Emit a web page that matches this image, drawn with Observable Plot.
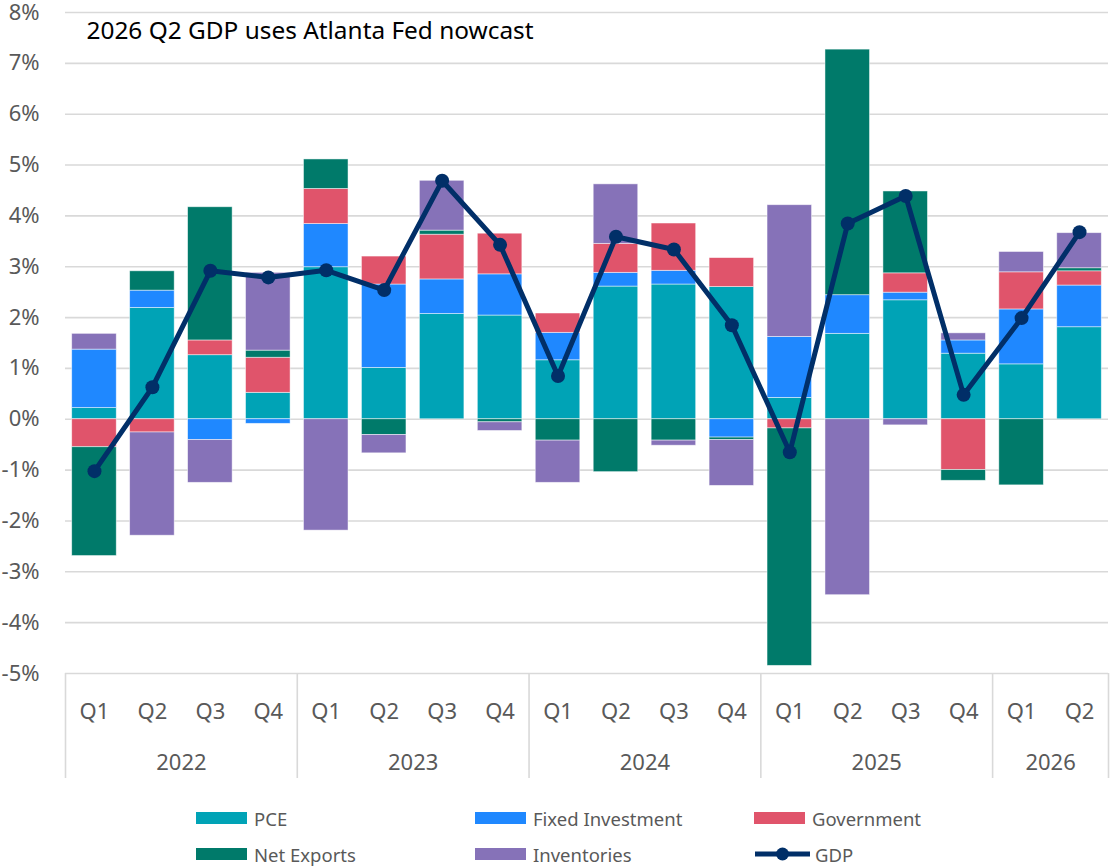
<!DOCTYPE html>
<html>
<head>
<meta charset="utf-8">
<script src="https://cdn.jsdelivr.net/npm/d3@7"></script>
<script src="https://cdn.jsdelivr.net/npm/@observablehq/plot@0.6"></script>
<style>
  body { margin: 0; background: #fff; font-family: "Noto Sans", "Open Sans", sans-serif; }
  #chart svg { display: block; }
  .legend { display: grid; grid-template-columns: 279px 279px 279px; margin-left: 196px; padding-top: 10px; }
  .item { display: flex; align-items: center; height: 36px; font-size: 18.5px; color: #595959; }
  .sw { width: 51px; height: 12px; margin-right: 7px; }
</style>
</head>
<body>
<div id="chart"></div>
<div class="legend" id="legend"></div>
<script>
const quarters = ["Q1","Q2","Q3","Q4","Q1","Q2","Q3","Q4","Q1","Q2","Q3","Q4","Q1","Q2","Q3","Q4","Q1","Q2"];
const years    = ["2022","2022","2022","2022","2023","2023","2023","2023","2024","2024","2024","2024","2025","2025","2025","2025","2026","2026"];
const yTicks = [-5,-4,-3,-2,-1,0,1,2,3,4,5,6,7,8];
const title = "2026 Q2 GDP uses Atlanta Fed nowcast";

const seriesNames = ["PCE","Fixed Investment","Government","Net Exports","Inventories"];
const seriesColors = ["#00a3b6","#1f88ff","#e0546b","#007a6a","#8672b8"];
const gdpColor = "#012f68";

const pce      = [0.22,2.19,1.26,0.52, 2.99,1.01,2.07,2.04, 1.16,2.61,2.65,2.60, 0.42,1.68,2.34,1.29, 1.08,1.81];
const fixedInv = [1.15,0.34,-0.41,-0.09, 0.85,1.64,0.68,0.81, 0.54,0.27,0.27,-0.36, 1.20,0.76,0.15,0.26, 1.08,0.82];
const govt     = [-0.55,-0.26,0.29,0.69, 0.69,0.55,0.88,0.80, 0.38,0.57,0.93,0.57, -0.18,0.00,0.38,-1.00, 0.73,0.28];
const netExp   = [-2.14,0.38,2.62,0.14, 0.58,-0.31,0.08,-0.06, -0.42,-1.04,-0.42,-0.05, -4.67,4.83,1.61,-0.21, -1.30,0.06];
const inventories = [0.31,-2.03,-0.84,1.53, -2.19,-0.36,0.98,-0.17, -0.83,1.17,-0.10,-0.90, 2.59,-3.46,-0.12,0.14, 0.40,0.69];
const gdp      = [-1.02,0.63,2.92,2.79, 2.93,2.54,4.69,3.43, 0.85,3.59,3.34,1.85, -0.65,3.85,4.39,0.48, 1.99,3.68];

const seriesValues = [pce, fixedInv, govt, netExp, inventories];

// long table for stacking
const bars = [];
seriesValues.forEach((vals, s) => vals.forEach((v, i) => bars.push({i, series: seriesNames[s], value: v})));
const gdpData = gdp.map((v, i) => ({i, value: v}));
const quarterData = quarters.map((q, i) => ({i, q}));
const yearList = Array.from(new Set(years));
const yearData = yearList.map(y => {
  const idx = years.map((yy, i) => yy === y ? i : -1).filter(i => i >= 0);
  return {year: y, start: d3.min(idx), end: d3.max(idx) + 1};
});
const boundaries = Array.from(new Set(yearData.flatMap(d => [d.start, d.end])));

const W = 1110, H = 790, mT = 12, mB = 117, mL = 65, mR = 2;
const frameH = H - mT - mB;

const plot = Plot.plot({
  width: W, height: H,
  marginTop: mT, marginBottom: mB, marginLeft: mL, marginRight: mR,
  style: {fontFamily: "'Noto Sans', 'Open Sans', sans-serif", fontSize: "22px", color: "#595959", background: "#fff", overflow: "visible"},
  x: {domain: [0, quarters.length], axis: null},
  y: {domain: [d3.min(yTicks), d3.max(yTicks)], axis: null},
  color: {domain: seriesNames, range: seriesColors},
  marks: [
    Plot.gridY(yTicks, {stroke: "#d9d9d9", strokeOpacity: 1, strokeWidth: 1.6}),
    Plot.axisY(yTicks, {tickSize: 0, tickPadding: 26, tickFormat: d => d + "%", fontSize: 22, fill: "#595959", label: null}),
    Plot.ruleX(boundaries, {x: d => d, stroke: "#d9d9d9", strokeWidth: 1.6, insetTop: frameH, insetBottom: -105}),
    Plot.rectY(bars, {x: "i", interval: 1, y: "value", fill: "series", insetLeft: 6.7, insetRight: 6.7, stroke: "#ffffff", strokeWidth: 0.8, strokeOpacity: 0.6}),
    Plot.lineY(gdpData, {x: d => d.i + 0.5, y: "value", stroke: gdpColor, strokeWidth: 5, curve: "linear"}),
    Plot.dot(gdpData, {x: d => d.i + 0.5, y: "value", fill: gdpColor, r: 7}),
    Plot.text(quarterData, {x: d => d.i + 0.5, text: "q", frameAnchor: "bottom", lineAnchor: "middle", dy: 38, fontSize: 22, fill: "#595959"}),
    Plot.text(yearData, {x: d => (d.start + d.end) / 2, text: "year", frameAnchor: "bottom", lineAnchor: "middle", dy: 89, fontSize: 22, fill: "#595959"}),
    Plot.text([title], {frameAnchor: "top-left", lineAnchor: "middle", dx: 21, dy: 19, textAnchor: "start", fontSize: 24.4, fill: "#000"})
  ]
});
document.getElementById("chart").appendChild(plot);

// legend
const legend = document.getElementById("legend");
const legendItems = [
  {name: "PCE", color: seriesColors[0]},
  {name: "Fixed Investment", color: seriesColors[1]},
  {name: "Government", color: seriesColors[2]},
  {name: "Net Exports", color: seriesColors[3]},
  {name: "Inventories", color: seriesColors[4]},
  {name: "GDP", color: gdpColor, line: true}
];
for (const it of legendItems) {
  const div = document.createElement("div");
  div.className = "item";
  if (it.line) {
    div.innerHTML = `<svg width="58" height="16" style="margin-right:3px"><line x1="1" x2="56" y1="8" y2="8" stroke="${it.color}" stroke-width="5"/><circle cx="28.5" cy="8" r="6.5" fill="${it.color}"/></svg><span>${it.name}</span>`;
  } else {
    div.innerHTML = `<div class="sw" style="background:${it.color}"></div><span>${it.name}</span>`;
  }
  legend.appendChild(div);
}
</script>
</body>
</html>
